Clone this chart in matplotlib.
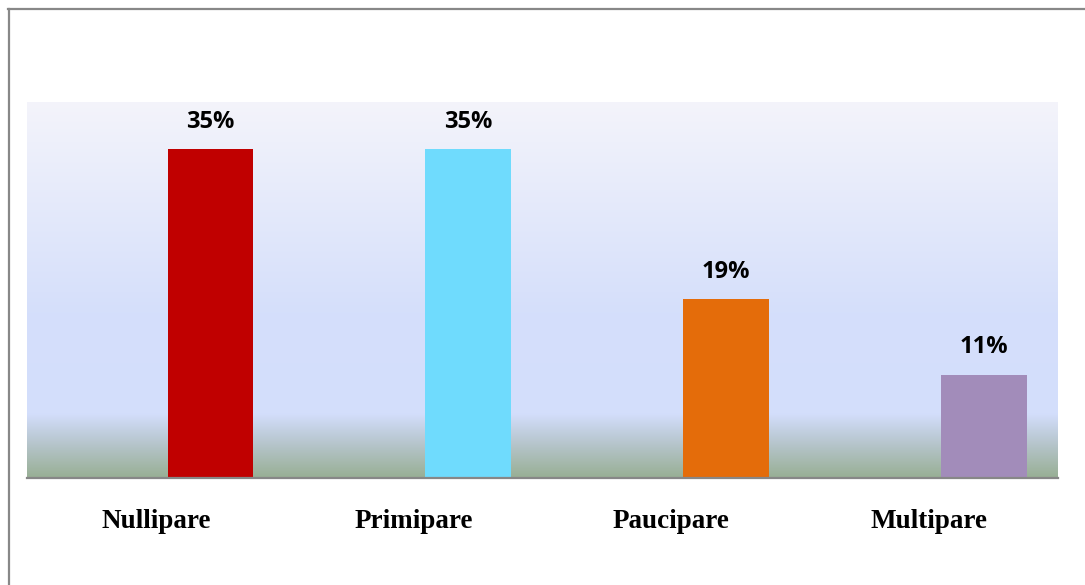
import numpy as np
import matplotlib
matplotlib.use("Agg")
import matplotlib.pyplot as plt
from matplotlib.lines import Line2D

# Parity categories and their share of the sample (%)
categories = ["Nullipare", "Primipare", "Paucipare", "Multipare"]
shares = [35, 35, 19, 11]
bar_colors = ["#c00000", "#6fdbfd", "#e46c0a", "#a28cba"]

W, H = 1085, 585
fig = plt.figure(figsize=(W / 100, H / 100), dpi=100)
ax = fig.add_axes([27 / W, 1 - 478 / H, (1058 - 27) / W, (478 - 102) / H])

# Vertical background gradient: pale lavender -> light blue -> grey-green at the floor
stops = [0.0, 0.09, 0.17, 0.44, 1.0]
cols = np.array([
    [152, 175, 148],
    [182, 197, 204],
    [211, 222, 252],
    [213, 223, 251],
    [244, 244, 250],
]) / 255
t = np.linspace(0, 1, 400)
grad = np.stack([np.interp(t, stops, cols[:, i]) for i in range(3)], axis=-1)[::-1]
ax.imshow(grad[:, None, :], extent=[0, 1, 0, 1], transform=ax.transAxes,
          aspect="auto", zorder=0, interpolation="bilinear")

x = np.arange(len(categories))
offset, width = 0.212, 0.333
bars = ax.bar(x + offset, shares, width=width, color=bar_colors, zorder=2)

for b, v in zip(bars, shares):
    ax.annotate(f"{v}%", (b.get_x() + b.get_width() / 2, v),
                xytext=(0, 11), textcoords="offset points",
                ha="center", va="bottom", fontsize=17, fontweight="bold",
                family="Open Sans", color="black")

ax.set_xlim(-0.5, 3.5)
ax.set_ylim(0, 40)
ax.set_xticks(x)
ax.set_xticklabels(categories, family="Liberation Serif", fontweight="bold",
                   fontsize=19.5)
ax.tick_params(axis="x", length=0, pad=22)
ax.set_yticks([])
for s in ["top", "right", "left"]:
    ax.spines[s].set_visible(False)
ax.spines["bottom"].set_color("#878787")
ax.spines["bottom"].set_linewidth(1.6)

# Outer chart frame (left and top edges)
fig.add_artist(Line2D([9 / W, 9 / W], [0, 1 - 8.5 / H], color="#888888", lw=1.6))
fig.add_artist(Line2D([8 / W, 1], [1 - 8.5 / H, 1 - 8.5 / H], color="#888888", lw=1.6))

fig.savefig("out.png", dpi=100)
